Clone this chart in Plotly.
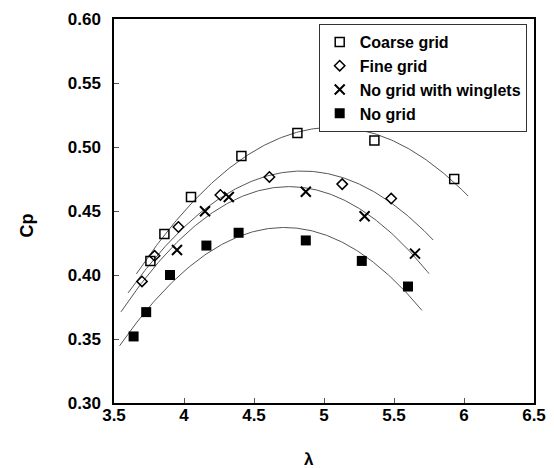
import numpy as np
import plotly.graph_objects as go

# ---- data ----
series_names = ["Coarse grid", "Fine grid", "No grid with winglets", "No grid"]

coarse_x = [3.76, 3.86, 4.05, 4.41, 4.81, 5.36, 5.93]
coarse_y = [0.411, 0.432, 0.461, 0.493, 0.511, 0.505, 0.475]

fine_x = [3.70, 3.79, 3.96, 4.26, 4.61, 5.13, 5.48]
fine_y = [0.395, 0.415, 0.4375, 0.4625, 0.4766, 0.471, 0.4597]

winglet_x = [3.95, 4.15, 4.32, 4.87, 5.29, 5.65]
winglet_y = [0.4195, 0.4498, 0.461, 0.465, 0.4459, 0.4167]

nogrid_x = [3.64, 3.73, 3.90, 4.16, 4.39, 4.87, 5.27, 5.60]
nogrid_y = [0.352, 0.371, 0.400, 0.423, 0.433, 0.427, 0.411, 0.391]

# trendline forecast (backward, forward) in lambda units, as in the source chart
trend_backward = [0.10, 0.10, 0.40, 0.10]
trend_forward = [0.10, 0.30, 0.10, 0.10]

x_ticks = [3.5, 4, 4.5, 5, 5.5, 6, 6.5]
y_ticks = [0.30, 0.35, 0.40, 0.45, 0.50, 0.55, 0.60]

# ---- styles ----
FONT = "Liberation Sans, Arial, sans-serif"
marker_styles = [
    dict(symbol="square-open", size=9, color="black", line=dict(width=1.5, color="black")),
    dict(symbol="diamond-open", size=8, color="black", line=dict(width=1.5, color="black")),
    dict(symbol="x-thin-open", size=10, color="black", line=dict(width=2, color="black")),
    dict(symbol="square", size=10, color="black", line=dict(width=0)),
]

xs_all = [coarse_x, fine_x, winglet_x, nogrid_x]
ys_all = [coarse_y, fine_y, winglet_y, nogrid_y]

fig = go.Figure()

# quadratic trend lines fitted to each series
for xs, ys, back, fwd in zip(xs_all, ys_all, trend_backward, trend_forward):
    coef = np.polyfit(xs, ys, 2)
    xx = np.linspace(min(xs) - back, max(xs) + fwd, 200)
    fig.add_trace(go.Scatter(
        x=xx, y=np.polyval(coef, xx), mode="lines",
        line=dict(color="#555555", width=1), showlegend=False, hoverinfo="skip",
    ))

for name, xs, ys, ms in zip(series_names, xs_all, ys_all, marker_styles):
    fig.add_trace(go.Scatter(x=xs, y=ys, mode="markers", name=name, marker=ms))

# page body has an 8px margin; work in window pixels and shift
OFF = 8
WIN_W, WIN_H = 554, 468
W, H = WIN_W - OFF, WIN_H - OFF
PLOT_L, PLOT_R, PLOT_T, PLOT_B = 114, 534, 19, 403   # window pixels
L = PLOT_L - OFF
R = W - (PLOT_R - OFF)
T = PLOT_T - OFF
B = H - (PLOT_B - OFF)
PW, PH = PLOT_R - PLOT_L, PLOT_B - PLOT_T


def px_to_paper(px, py):
    return (px - PLOT_L) / PW, (PLOT_B - py) / PH


axis_common = dict(
    showgrid=False, zeroline=False, showline=True, linecolor="black", linewidth=1.5,
    mirror=True, ticks="inside", ticklen=5, tickcolor="#555555", tickwidth=1,
    tickfont=dict(family=FONT, size=17, color="black", weight="bold"),
)

fig.update_xaxes(range=[3.5, 6.5], tickvals=x_ticks,
                 ticktext=[("%g" % v) for v in x_ticks], ticklabelstandoff=-4, **axis_common)
fig.update_yaxes(range=[0.30, 0.60], tickvals=y_ticks,
                 ticktext=["%.2f" % v for v in y_ticks], ticklabelstandoff=8, **axis_common)

lx, ly = px_to_paper(526.7, 24)
cpx, cpy = px_to_paper(26, 225.5)
lamx, lamy = px_to_paper(309, 459.7)

fig.update_layout(
    width=W, height=H,
    margin=dict(l=L, r=R, t=T, b=B, autoexpand=False),
    paper_bgcolor="white", plot_bgcolor="white",
    font=dict(family=FONT, color="black", weight="bold"),
    legend=dict(
        x=lx, y=ly, xanchor="right", yanchor="top",
        bgcolor="white", bordercolor="#333333", borderwidth=1,
        font=dict(family=FONT, size=16, color="black", weight="bold"),
        itemwidth=30, tracegroupgap=0,
    ),
    annotations=[
        dict(text="Cp", x=cpx, y=cpy, xref="paper", yref="paper", showarrow=False,
             textangle=-90, xanchor="center", yanchor="middle",
             font=dict(family=FONT, size=18, color="black", weight="bold")),
        dict(text="λ", x=lamx, y=lamy, xref="paper", yref="paper", showarrow=False,
             xanchor="center", yanchor="middle",
             font=dict(family=FONT, size=17, color="black", weight="bold")),
    ],
)

fig.write_html("out.html")
